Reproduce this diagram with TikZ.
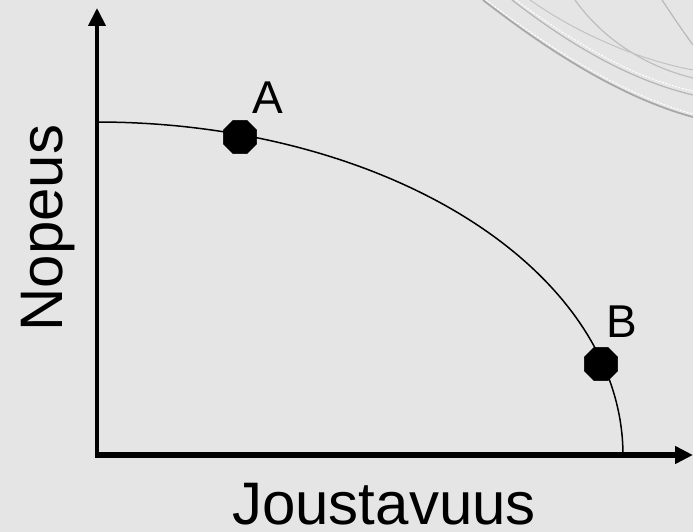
\documentclass[tikz,border=0pt]{standalone}
\usepackage{fontspec}
\setmainfont{Liberation Sans}
\usetikzlibrary{arrows.meta,shapes.geometric}
\definecolor{bg}{HTML}{E5E5E5}
\definecolor{deco}{HTML}{A8A8A8}
\tikzset{
  axis/.style={draw=black,-{Triangle[width=17pt,length=18pt]}},
  marker/.style={regular polygon,regular polygon sides=8,fill=black,draw=black,inner sep=0pt,minimum size=36pt},
  ptlabel/.style={font=\fontsize{46}{46}\selectfont,inner sep=0pt},
  axlabel/.style={font=\fontsize{60}{60}\selectfont,inner sep=0pt,anchor=base},
  decoarc/.style={draw=deco,line width=1.8pt},
  decoarcl/.style={draw=white,line width=1pt,dash pattern=on 2pt off 1.5pt}
}
\begin{document}
\begin{tikzpicture}[x=1pt,y=-1pt]
\fill[bg] (0,0) rectangle (693,532);
\useasboundingbox (0,0) rectangle (693,532);
% decorative arcs
\draw[decoarc] (483,0) .. controls (560,60) and (630,100) .. (693,117);
\draw[decoarcl] (486,0) .. controls (562,58) and (632,97) .. (693,114);
\draw[decoarc,line width=1.2pt,draw=deco!85] (512,0) .. controls (570,45) and (630,80) .. (693,95);
\draw[decoarcl] (516,0) .. controls (573,42) and (633,78) .. (693,91);
\draw[decoarc,line width=1.2pt,draw=deco!75] (575,0) .. controls (600,35) and (640,65) .. (693,78);
\draw[decoarc,line width=1pt,draw=deco!70] (530,0) .. controls (580,35) and (640,60) .. (693,70);
\draw[decoarc,line width=1.2pt,draw=deco!80] (662,0) .. controls (672,15) and (682,30) .. (693,45);
% axes
\coordinate (origin) at (97,455);
\coordinate (ytop) at (97,8);
\coordinate (xend) at (693,455);
\coordinate (ybot) at (97,458);
\coordinate (xstart) at (95,455);
\draw[axis,line width=4pt] (ybot) -- (ytop);
\draw[axis,line width=6pt] (xstart) -- (xend);
% curve
\draw[line width=1.5pt] plot[domain=0:90,samples=120,smooth] ({97+526*sin(\x)},{455-333*cos(\x)});
% markers
\node[marker] (A) at (240,137) {};
\node[marker] (B) at (601,364) {};
\node[ptlabel] (la) at (268,98) {A};
\node[ptlabel] (lb) at (622,322) {B};
% axis labels
\node[axlabel,rotate=90] (ny) at (62,228) {Nopeus};
\node[axlabel] (nx) at (384,524) {Joustavuus};
\end{tikzpicture}
\end{document}
